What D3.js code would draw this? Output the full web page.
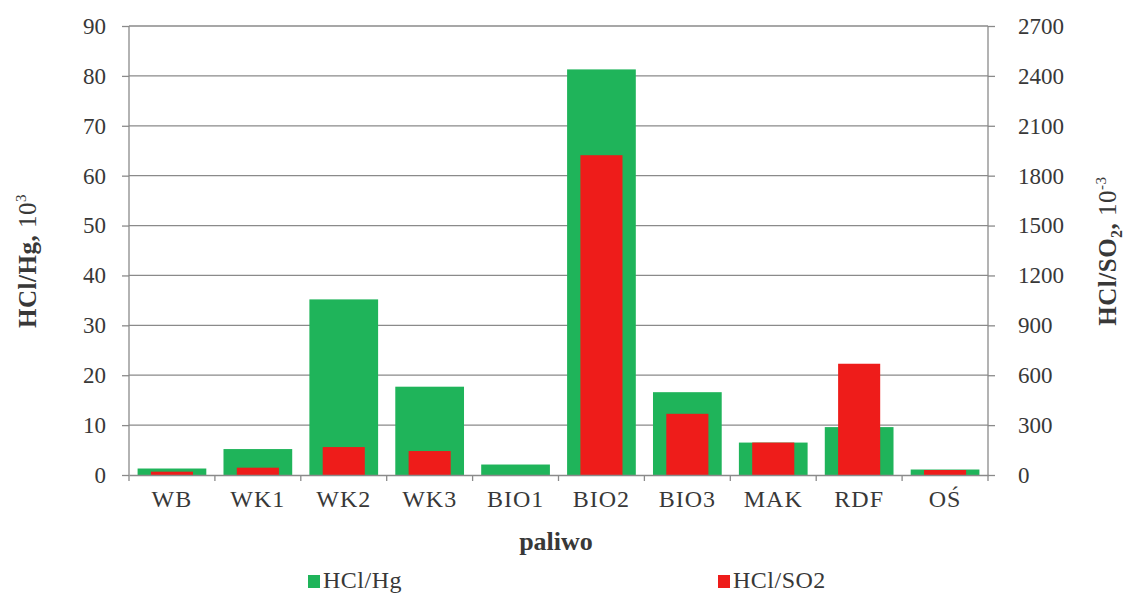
<!DOCTYPE html>
<html><head><meta charset="utf-8">
<script src="https://cdn.jsdelivr.net/npm/d3@7"></script>
<style>body{margin:0;background:#fff}svg{display:block}text{font-family:"Liberation Serif","DejaVu Serif",serif;fill:#383838}</style>
</head><body><svg id="c" width="1124" height="594"></svg>
<script>
const categories = ["WB","WK1","WK2","WK3","BIO1","BIO2","BIO3","MAK","RDF","OŚ"];
const hclHg = [1.3,5.2,35.2,17.7,2.1,81.3,16.6,6.5,9.6,1.1];
const hclSO2 = [20,44,168,144,0,1923,368,195,669,30];
const leftTicks = [0,10,20,30,40,50,60,70,80,90];
const rightTicks = [0,300,600,900,1200,1500,1800,2100,2400,2700];
const seriesNames = ["HCl/Hg","HCl/SO2"];

const svg = d3.select("#c");
const L=129, R=988, T=26, B=475;
const green="#1fb45a", red="#ee1c1a", grid="#8a8a8a";
const x = d3.scaleBand().domain(categories).range([L,R]);
const yL = d3.scaleLinear().domain([0,90]).range([B,T]);
const yR = d3.scaleLinear().domain([0,2700]).range([B,T]);

// gridlines
svg.append("g").selectAll("line").data(leftTicks.slice(1)).join("line")
  .attr("x1",L).attr("x2",R).attr("y1",d=>yL(d)).attr("y2",d=>yL(d))
  .attr("stroke",grid).attr("stroke-width",1.3);

// green bars
const gw = x.bandwidth()*0.8;
svg.append("g").selectAll("rect").data(hclHg).join("rect")
  .attr("x",(d,i)=>x(categories[i])+(x.bandwidth()-gw)/2).attr("width",gw)
  .attr("y",d=>yL(d)).attr("height",d=>B-yL(d)).attr("fill",green);
// red bars
const rw = x.bandwidth()*0.49;
svg.append("g").selectAll("rect").data(hclSO2).join("rect")
  .attr("x",(d,i)=>x(categories[i])+(x.bandwidth()-rw)/2).attr("width",rw)
  .attr("y",d=>yR(d)).attr("height",d=>B-yR(d)).attr("fill",red);

// left axis
const ga = svg.append("g").attr("transform",`translate(${L},0)`)
  .call(d3.axisLeft(yL).tickValues(leftTicks).tickSize(7).tickPadding(16));
// right axis
const gr = svg.append("g").attr("transform",`translate(${R},0)`)
  .call(d3.axisRight(yR).tickValues(rightTicks).tickFormat(d3.format("d")).tickSize(7).tickPadding(23));
// bottom axis
const gb = svg.append("g").attr("transform",`translate(0,${B})`)
  .call(d3.axisBottom(x).tickSize(0).tickPadding(15));
svg.append("g").selectAll("line").data(d3.range(categories.length+1)).join("line")
  .attr("x1",i=>L+i*x.step()).attr("x2",i=>L+i*x.step()).attr("y1",B).attr("y2",B+6)
  .attr("stroke",grid).attr("stroke-width",1.3);
[ga,gr,gb].forEach(g=>{
  g.attr("font-size",null);
  g.selectAll("path,line").attr("stroke",grid).attr("stroke-width",1.3);
  g.selectAll("text").style("font-family",'"Liberation Serif",serif').style("font-size","23px").attr("fill","#383838");
});
gb.selectAll("text").style("font-size","24px").style("letter-spacing","1px");
ga.select(".domain").attr("d",`M0,${B}V${T}`);
gr.select(".domain").attr("d",`M0,${B}V${T}`);

// axis titles
const lt = svg.append("text").attr("transform","translate(36,261) rotate(-90)").attr("text-anchor","middle").style("font-size","25px").style("letter-spacing","0.5px");
lt.append("tspan").attr("font-weight","bold").text("HCl/Hg,");
lt.append("tspan").text(" 10");
lt.append("tspan").attr("dy",-10).style("font-size","15px").text("3");

const rt = svg.append("text").attr("transform","translate(1116,251) rotate(-90)").attr("text-anchor","middle").style("font-size","25px").style("letter-spacing","0.5px");
rt.append("tspan").attr("font-weight","bold").text("HCl/SO");
rt.append("tspan").attr("font-weight","bold").attr("dy",6).style("font-size","16px").text("2");
rt.append("tspan").attr("font-weight","bold").attr("dy",-6).text(",");
rt.append("tspan").text(" 10");
rt.append("tspan").attr("dy",-10).style("font-size","15px").text("-3");

svg.append("text").attr("x",556).attr("y",550).attr("text-anchor","middle")
  .attr("font-weight","bold").style("font-size","26px").text("paliwo");

// legend
const leg = [{n:seriesNames[0],c:green,x:308},{n:seriesNames[1],c:red,x:718}];
const lg = svg.append("g").selectAll("g").data(leg).join("g").attr("transform",d=>`translate(${d.x},0)`);
lg.append("rect").attr("x",0).attr("y",575).attr("width",12).attr("height",13).attr("fill",d=>d.c);
lg.append("text").attr("x",15).attr("y",588).style("font-size","24px").style("letter-spacing","0.5px").text(d=>d.n);
</script></body></html>
